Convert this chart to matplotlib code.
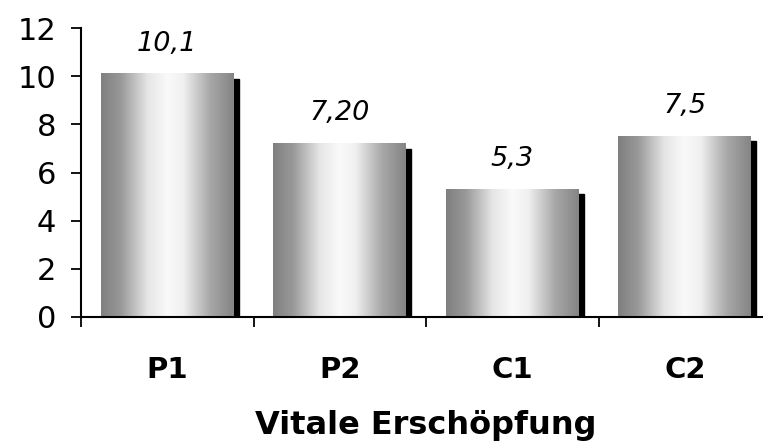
import numpy as np
import matplotlib
matplotlib.use("Agg")
import matplotlib.pyplot as plt
from matplotlib.colors import LinearSegmentedColormap
from matplotlib.patches import Rectangle

categories = ["P1", "P2", "C1", "C2"]
values = [10.1, 7.2, 5.3, 7.5]
value_labels = ["10,1", "7,20", "5,3", "7,5"]
y_ticks = [0, 2, 4, 6, 8, 10, 12]
x_title = "Vitale Erschöpfung"

plt.rcParams['font.family'] = ['DejaVu Sans']

# grey -> white -> grey shading across each bar
shade = LinearSegmentedColormap.from_list("shade", [
    (0.0, (0.50, 0.50, 0.50)),
    (0.15, (0.60, 0.60, 0.60)),
    (0.35, (0.90, 0.90, 0.90)),
    (0.50, (0.98, 0.98, 0.98)),
    (0.62, (0.94, 0.94, 0.94)),
    (0.82, (0.66, 0.66, 0.66)),
    (1.0, (0.52, 0.52, 0.52)),
])

fig = plt.figure(figsize=(7.63, 4.41), dpi=100)
ax = fig.add_axes([81 / 763, 1 - 317 / 441, 690 / 763, 289 / 441])

bar_w = 0.77
sx = 5 / 172.5   # shadow offset in x units (~5 px)
sy = 5 / 24.1    # shadow offset in y units (~5 px)
grad = np.linspace(0, 1, 256).reshape(1, -1)

for i, v in enumerate(values):
    x0 = i - bar_w / 2
    x1 = i + bar_w / 2
    ax.add_patch(Rectangle((x0 + sx, 0), bar_w, v - sy, color="black", zorder=1))
    ax.imshow(grad, cmap=shade, extent=(x0, x1, 0, v), aspect="auto", zorder=2,
              interpolation="bilinear")
    ax.text(i, v + 1.25, value_labels[i], ha="center", va="center",
            fontsize=19.5, style="italic")

ax.set_xlim(-0.5, 3.5)
ax.set_ylim(0, 12)
ax.set_yticks(y_ticks)
ax.set_yticklabels([str(t) for t in y_ticks], fontsize=22)
ax.set_xticks([i - 0.5 for i in range(len(categories) + 1)])
ax.set_xticklabels([])
ax.set_xticks(range(len(categories)), minor=True)
ax.set_xticklabels(categories, minor=True, fontsize=21, fontweight="bold")
ax.tick_params(axis="x", which="minor", length=0, pad=28)
ax.tick_params(axis="x", which="major", length=7.5, width=1.3, direction="out")
ax.tick_params(axis="y", length=7, width=1.3, direction="out", pad=11)
ax.spines["top"].set_visible(False)
ax.spines["right"].set_visible(False)
ax.spines["left"].set_linewidth(1.5)
ax.spines["bottom"].set_linewidth(1.5)
ax.set_xlabel(x_title, fontsize=23, fontweight="bold", labelpad=19)

fig.savefig("out.png", dpi=100)
